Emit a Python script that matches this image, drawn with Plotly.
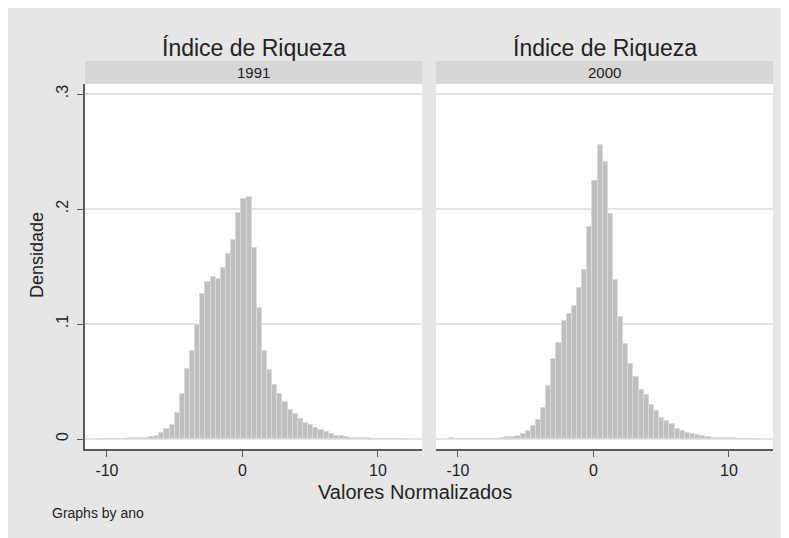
import plotly.graph_objects as go

# ---- data ----
bin_start = -10.69
bin_width = 0.379

dens_1991 = [0.0003, 0.0003, 0.0003, 0.0003, 0.0004, 0.0004, 0.0005, 0.0006, 0.0008, 0.0012,
             0.0017, 0.0029, 0.0049, 0.0084, 0.0122, 0.0229, 0.0392, 0.0610, 0.0761, 0.0993,
             0.1260, 0.1364, 0.1405, 0.1390, 0.1489, 0.1608, 0.1733, 0.1965, 0.2087, 0.2102,
             0.1663, 0.1141, 0.0763, 0.0601, 0.0470, 0.0389, 0.0325, 0.0253, 0.0215, 0.0171,
             0.0136, 0.0122, 0.0099, 0.0078, 0.0058, 0.0041, 0.0029, 0.0023, 0.0017, 0.0012,
             0.0009, 0.0006, 0.0005, 0.0004, 0.0003, 0.0002, 0.0002, 0.0001, 0.0001, 0.0001]

dens_2000 = [0.0007, 0.0, 0.0, 0.0001, 0.0001, 0.0002, 0.0002, 0.0003, 0.0003, 0.0004,
             0.0009, 0.0014, 0.0020, 0.0029, 0.0046, 0.0067, 0.0110, 0.0168, 0.0272, 0.0464,
             0.0696, 0.0835, 0.1026, 0.1090, 0.1159, 0.1316, 0.1467, 0.1841, 0.2246, 0.2559,
             0.2409, 0.1957, 0.1386, 0.1061, 0.0826, 0.0652, 0.0539, 0.0429, 0.0383, 0.0296,
             0.0246, 0.0180, 0.0154, 0.0133, 0.0090, 0.0072, 0.0052, 0.0043, 0.0035, 0.0026,
             0.0017, 0.0012, 0.0010, 0.0008, 0.0006, 0.0005, 0.0004, 0.0003, 0.0002, 0.0002]

years = ["1991", "2000"]
x_ticks = [-10, 0, 10]
x_tick_labels = ["-10", "0", "10"]
y_ticks = [0, 0.1, 0.2, 0.3]
y_tick_labels = ["0", ".1", ".2", ".3"]

panel_title = "Índice de Riqueza"
x_title = "Valores Normalizados"
y_title = "Densidade"
note = "Graphs by ano"

# ---- layout helpers (screen pixel -> paper, zero margins, page offset 8px) ----
W, H = 800, 550
OFF = 8
def px(x):
    return (x - OFF) / W
def py(y):
    return 1 - (y - OFF) / H

FONT = "Liberation Sans, Arial, sans-serif"
BG = "#e6e6e6"
STRIP = "#d6d6d6"
AX = "#5a5a5a"
GRID = "#e3e3e3"
BAR = "#bfbfbf"
BAR_LINE = "#d9d9d9"

centers_1991 = [bin_start + bin_width * (i + 0.5) for i in range(len(dens_1991))]
centers_2000 = [bin_start + bin_width * (i + 0.5) for i in range(len(dens_2000))]

fig = go.Figure()
fig.add_trace(go.Bar(x=centers_1991, y=dens_1991, width=bin_width,
                     marker=dict(color=BAR, line=dict(color=BAR_LINE, width=1)),
                     xaxis="x", yaxis="y", showlegend=False, hoverinfo="x+y"))
fig.add_trace(go.Bar(x=centers_2000, y=dens_2000, width=bin_width,
                     marker=dict(color=BAR, line=dict(color=BAR_LINE, width=1)),
                     xaxis="x2", yaxis="y2", showlegend=False, hoverinfo="x+y"))

x_range = [-11.62, 13.25]
y_range = [-0.0087, 0.3087]
p1 = (85, 422)
p2 = (436, 773)
top, bottom = 84, 449

xcommon = dict(range=x_range, tickvals=x_ticks, ticktext=x_tick_labels,
               showgrid=False, zeroline=False, showline=True, linecolor=AX,
               linewidth=1.5, ticks="outside", ticklen=6, tickcolor=AX, tickwidth=1.3,
               tickfont=dict(family=FONT, size=16, color="#222222"), fixedrange=True)
ycommon = dict(range=y_range, tickvals=y_ticks, ticktext=y_tick_labels,
               showgrid=True, gridcolor=GRID, gridwidth=1.5, zeroline=False,
               domain=[py(bottom), py(top)], fixedrange=True)

fig.update_layout(
    width=W, height=H,
    margin=dict(l=0, r=0, t=0, b=0),
    paper_bgcolor=BG, plot_bgcolor="white",
    bargap=0,
    xaxis=dict(domain=[px(p1[0]), px(p1[1])], anchor="y", **xcommon),
    xaxis2=dict(domain=[px(p2[0]), px(p2[1])], anchor="y2", **xcommon),
    yaxis=dict(anchor="x", showline=True, linecolor=AX, linewidth=1.5,
               ticks="outside", ticklen=6, tickcolor=AX, tickwidth=1.3,
               tickangle=-90, ticklabelstandoff=3,
               tickfont=dict(family=FONT, size=16, color="#222222"), **ycommon),
    yaxis2=dict(anchor="x2", showline=False, showticklabels=False, ticks="", **ycommon),
    font=dict(family=FONT, color="#222222"),
)

shapes = [
    dict(type="rect", xref="paper", yref="paper", x0=px(p1[0]), x1=px(p1[1]),
         y0=py(83.7), y1=py(61), fillcolor=STRIP, line=dict(width=0), layer="below"),
    dict(type="rect", xref="paper", yref="paper", x0=px(p2[0]), x1=px(p2[1]),
         y0=py(83.7), y1=py(61), fillcolor=STRIP, line=dict(width=0), layer="below"),
]
fig.update_layout(shapes=shapes)

ann = []
for (a, b), yr in zip([p1, p2], years):
    cx = (a + b) / 2
    ann.append(dict(text=panel_title, x=px(cx), y=py(48), xref="paper", yref="paper",
                    xanchor="center", yanchor="middle", showarrow=False,
                    font=dict(family=FONT, size=23, color="#222222")))
    ann.append(dict(text=yr, x=px(cx), y=py(73), xref="paper", yref="paper",
                    xanchor="center", yanchor="middle", showarrow=False,
                    font=dict(family=FONT, size=15, color="#222222")))
ann.append(dict(text=x_title, x=px(415), y=py(492), xref="paper", yref="paper",
                xanchor="center", yanchor="middle", showarrow=False,
                font=dict(family=FONT, size=20, color="#222222")))
ann.append(dict(text=y_title, x=px(37), y=py(255), xref="paper", yref="paper",
                xanchor="center", yanchor="middle", showarrow=False, textangle=-90,
                font=dict(family=FONT, size=18, color="#222222")))
ann.append(dict(text=note, x=px(50), y=py(513), xref="paper", yref="paper",
                xanchor="left", yanchor="middle", showarrow=False,
                font=dict(family=FONT, size=14, color="#222222")))
fig.update_layout(annotations=ann)

fig.write_html("out.html",
               post_script="document.documentElement.style.overflow='hidden';"
                           "document.body.style.overflow='hidden';")
